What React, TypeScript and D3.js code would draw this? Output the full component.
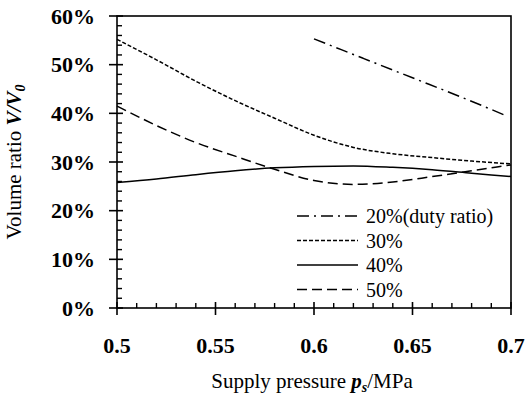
import React, { useEffect, useRef } from 'react';
import * as d3 from 'd3';

const pressure = [0.5, 0.52, 0.54, 0.56, 0.58, 0.6, 0.62, 0.64, 0.66, 0.68, 0.7];
const pressure20 = [0.6, 0.625, 0.65, 0.675, 0.697];

const duty20 = [55.3, 51.3, 47.3, 43.3, 39.6];
const duty30 = [55.2, 51.0, 46.6, 42.6, 39.0, 35.5, 33.0, 31.7, 30.9, 30.2, 29.6];
const duty40 = [25.8, 26.5, 27.4, 28.2, 28.8, 29.1, 29.2, 28.9, 28.4, 27.7, 27.0];
const duty50 = [41.5, 37.5, 34.0, 31.2, 28.5, 26.2, 25.4, 25.9, 27.0, 28.2, 29.4];

const legendLabels = ['20%(duty ratio)', '30%', '40%', '50%'];
const xTicks = [0.5, 0.55, 0.6, 0.65, 0.7];
const yTicks = [0, 10, 20, 30, 40, 50, 60];

const dashes = ['12,5,2,5', '4,2', null, '10,5'];

const App = () => {
  const svgRef = useRef<SVGSVGElement>(null);

  useEffect(() => {
    const svg = d3.select(svgRef.current);
    svg.selectAll('*').remove();

    const left = 117, right = 511, top = 16, bottom = 308;
    const x = d3.scaleLinear().domain([0.5, 0.7]).range([left, right]);
    const y = d3.scaleLinear().domain([0, 60]).range([bottom, top]);
    const font = 'Liberation Serif, Times New Roman, serif';

    // Frame
    svg.append('rect')
      .attr('x', left).attr('y', top)
      .attr('width', right - left).attr('height', bottom - top)
      .attr('fill', 'none').attr('stroke', '#000').attr('stroke-width', 1.6);

    // Minor ticks
    const xMinor = d3.range(0.51, 0.7, 0.01).filter((v) => Math.abs(v * 20 - Math.round(v * 20)) > 1e-6);
    svg.append('g').selectAll('line').data(xMinor).join('line')
      .attr('x1', (d) => x(d)).attr('x2', (d) => x(d))
      .attr('y1', bottom - 5).attr('y2', bottom)
      .attr('stroke', '#000').attr('stroke-width', 1.4);
    const yMinor = d3.range(2, 60, 2).filter((v) => v % 10 !== 0);
    svg.append('g').selectAll('line').data(yMinor).join('line')
      .attr('x1', left).attr('x2', left + 5)
      .attr('y1', (d) => y(d)).attr('y2', (d) => y(d))
      .attr('stroke', '#000').attr('stroke-width', 1.4);

    // Major ticks
    svg.append('g').selectAll('line').data(xTicks).join('line')
      .attr('x1', (d) => x(d)).attr('x2', (d) => x(d))
      .attr('y1', bottom - 6).attr('y2', bottom + 7)
      .attr('stroke', '#000').attr('stroke-width', 1.6);
    svg.append('g').selectAll('line').data(yTicks).join('line')
      .attr('x1', left - 8).attr('x2', left + 6)
      .attr('y1', (d) => y(d)).attr('y2', (d) => y(d))
      .attr('stroke', '#000').attr('stroke-width', 1.6);

    // Tick labels
    svg.append('g').selectAll('text').data(xTicks).join('text')
      .attr('x', (d) => x(d)).attr('y', 353)
      .attr('text-anchor', 'middle')
      .attr('font-family', font).attr('font-weight', 'bold').attr('font-size', 22)
      .text((d) => String(d));
    svg.append('g').selectAll('text').data(yTicks).join('text')
      .attr('x', 95).attr('y', (d) => y(d)).attr('dy', '0.35em')
      .attr('text-anchor', 'end')
      .attr('font-family', font).attr('font-weight', 'bold').attr('font-size', 22)
      .text((d) => `${d}%`);

    // Axis titles
    const xt = svg.append('text')
      .attr('x', (left + right) / 2 - 2).attr('y', 388)
      .attr('text-anchor', 'middle')
      .attr('font-family', font).attr('font-size', 21);
    xt.append('tspan').text('Supply pressure ');
    xt.append('tspan').text('p').attr('font-weight', 'bold').attr('font-style', 'italic');
    xt.append('tspan').text('s').attr('dy', 4).attr('font-size', 14)
      .attr('font-weight', 'bold').attr('font-style', 'italic');
    xt.append('tspan').text('/MPa').attr('dy', -4);

    const yt = svg.append('text')
      .attr('transform', `translate(21,${(top + bottom) / 2}) rotate(-90)`)
      .attr('text-anchor', 'middle')
      .attr('font-family', font).attr('font-size', 21);
    yt.append('tspan').text('Volume ratio ');
    yt.append('tspan').text('V/V').attr('font-weight', 'bold').attr('font-style', 'italic');
    yt.append('tspan').text('0').attr('dy', 4).attr('font-size', 14)
      .attr('font-weight', 'bold').attr('font-style', 'italic');

    // Curves
    const line = d3.line<[number, number]>()
      .x((d) => x(d[0])).y((d) => y(d[1]))
      .curve(d3.curveMonotoneX);
    const series: [number, number][][] = [
      pressure20.map((p, i) => [p, duty20[i]]),
      pressure.map((p, i) => [p, duty30[i]]),
      pressure.map((p, i) => [p, duty40[i]]),
      pressure.map((p, i) => [p, duty50[i]]),
    ];
    series.forEach((s, i) => {
      svg.append('path')
        .attr('d', line(s))
        .attr('fill', 'none').attr('stroke', '#000').attr('stroke-width', 1.5)
        .attr('stroke-dasharray', dashes[i]);
    });

    // Legend
    const lg = svg.append('g');
    legendLabels.forEach((label, i) => {
      const ly = 216 + i * 24.5;
      lg.append('line')
        .attr('x1', 297).attr('x2', 358).attr('y1', ly).attr('y2', ly)
        .attr('stroke', '#000').attr('stroke-width', 1.5)
        .attr('stroke-dasharray', dashes[i]);
      lg.append('text')
        .attr('x', 366).attr('y', ly).attr('dy', '0.35em')
        .attr('font-family', font).attr('font-size', 20)
        .text(label);
    });
  }, []);

  return (
    <svg
      ref={svgRef}
      width={529}
      height={399}
      style={{ position: 'absolute', left: 0, top: 0, background: '#fff' }}
    />
  );
};

export default App;
